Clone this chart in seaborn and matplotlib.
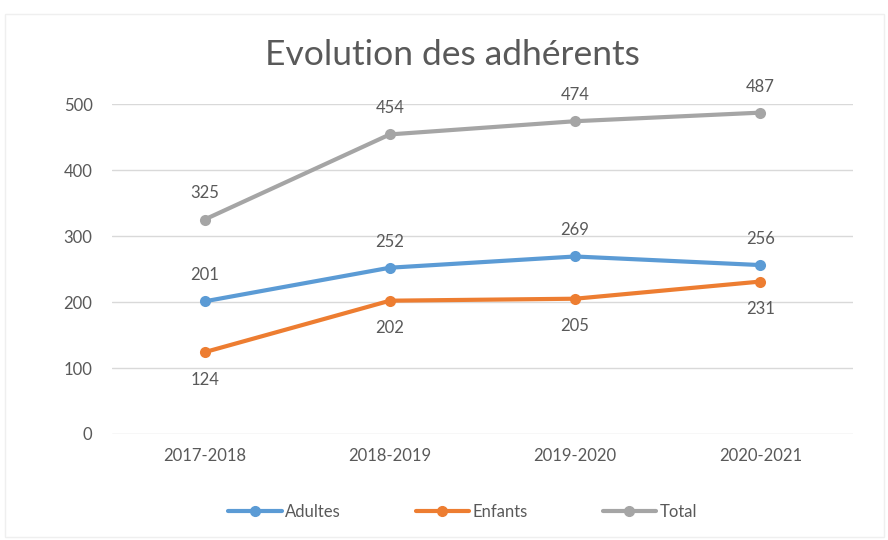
import matplotlib
matplotlib.use("Agg")
import matplotlib.pyplot as plt
import seaborn as sns
import pandas as pd

saisons = ["2017-2018", "2018-2019", "2019-2020", "2020-2021"]
adultes = [201, 252, 269, 256]
enfants = [124, 202, 205, 231]
total = [325, 454, 474, 487]

series = ["Adultes", "Enfants", "Total"]
couleurs = ["#5B9BD5", "#ED7D31", "#A5A5A5"]

sns.set_style("white")
plt.rcParams["font.family"] = ["Lato", "DejaVu Sans"]
grey_txt = "#595959"

df = pd.DataFrame({
    "Saison": saisons * 3,
    "pos": list(range(len(saisons))) * 3,
    "Valeur": adultes + enfants + total,
    "Serie": ["Adultes"] * 4 + ["Enfants"] * 4 + ["Total"] * 4,
})

fig = plt.figure(figsize=(8.88, 5.4), dpi=100)
ax = fig.add_axes([0.1261, 0.1963, 0.8345, 0.611])

sns.lineplot(data=df, x="pos", y="Valeur", hue="Serie", hue_order=series,
             palette=couleurs, marker="o", markersize=8, markeredgewidth=0,
             linewidth=3, ax=ax, legend=False)

# data labels: above for Adultes/Total, below for Enfants
for nom, vals in zip(series, [adultes, enfants, total]):
    for i, v in enumerate(vals):
        if nom == "Enfants":
            ax.annotate(str(v), (i, v), xytext=(0, -14), textcoords="offset points",
                        ha="center", va="top", fontsize=12, color=grey_txt)
        else:
            ax.annotate(str(v), (i, v), xytext=(0, 13), textcoords="offset points",
                        ha="center", va="bottom", fontsize=12, color=grey_txt)

ax.set_xlim(-0.5, 3.5)
ax.set_ylim(0, 500)
ax.set_yticks([0, 100, 200, 300, 400, 500])
ax.set_xticks(range(len(saisons)))
ax.set_xticklabels(saisons)
ax.yaxis.grid(True, color="#D9D9D9", linewidth=1)
ax.set_axisbelow(True)
for s in ax.spines.values():
    s.set_visible(False)
ax.tick_params(axis="both", length=0, labelsize=12, colors=grey_txt, pad=14)
ax.tick_params(axis="x", pad=10)
ax.set_xlabel("")
ax.set_ylabel("")

fig.text(0.51, 0.898, "Evolution des adhérents", ha="center", va="center",
         fontsize=25.5, color=grey_txt)

handles = [plt.Line2D([], [], color=c, marker="o", markersize=7, linewidth=3)
           for c in couleurs]
fig.legend(handles, series, loc="center", bbox_to_anchor=(0.521, 0.052), ncol=3,
           frameon=False, fontsize=12, labelcolor=grey_txt, handlelength=3.2,
           handletextpad=0.2, columnspacing=4.5)

# thin chart border like the original
fig.patches.append(plt.Rectangle((0.006, 0.005), 0.99, 0.97, transform=fig.transFigure,
                                 fill=False, edgecolor="#EFEFEF", linewidth=1))

fig.savefig("out.png", dpi=100)
